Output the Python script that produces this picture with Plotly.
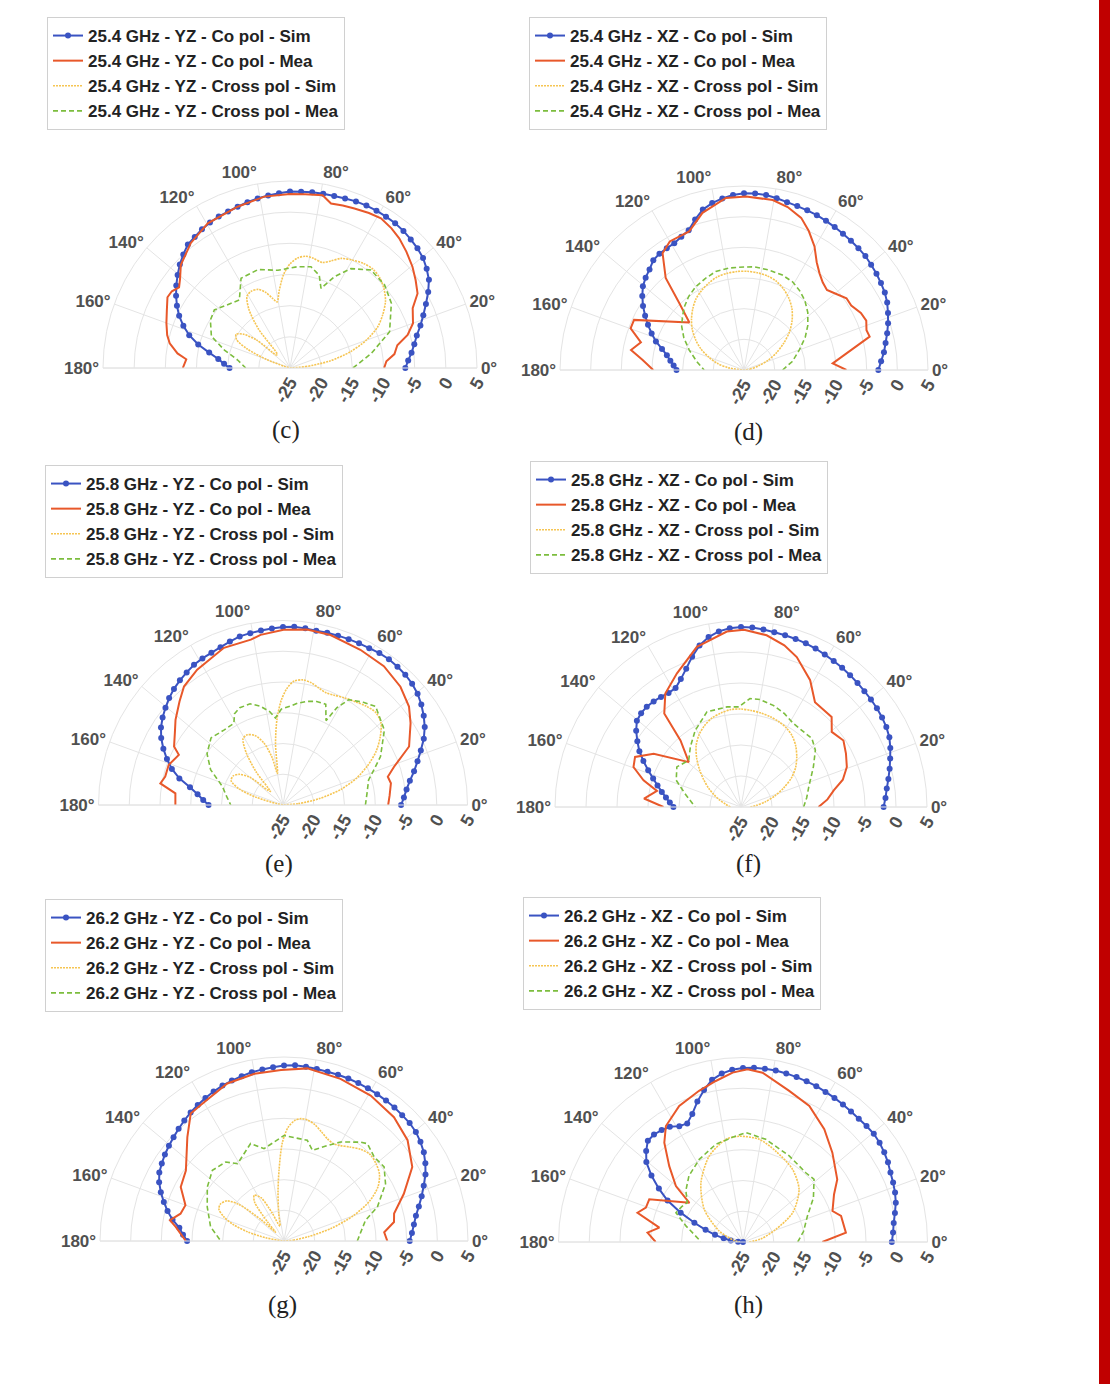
import plotly.graph_objects as go

W, H = 1110, 1384

# ---------------------------------------------------------------- data
SIM_THETA = [round(i * 3.6, 1) for i in range(51)]
ANGLE_TICKS = [0, 20, 40, 60, 80, 100, 120, 140, 160, 180]
ANGLE_TEXT = ["0°", "20°", "40°", "60°", "80°", "100°", "120°", "140°", "160°", "180°"]
RADIAL_TICKS = [-25, -20, -15, -10, -5, 0, 5]
RADIAL_TEXT = ["-25", "-20", "-15", "-10", "-5", "0", "5"]

# (c) 25.4 GHz, YZ plane
c_copol_sim = [-6.5, -6.0, -5.35, -4.7, -4.0, -3.0, -2.0, -0.9, 0.3, 1.4, 2.1, 2.7, 3.05, 3.3, 3.55,
               3.7, 3.75, 3.8, 3.8, 3.75, 3.6, 3.5, 3.45, 3.4, 3.35, 3.3, 3.1, 2.9, 2.7, 2.45, 2.2,
               2.0, 1.85, 1.65, 1.35, 1.0, 0.7, 0.0, -0.75, -1.6, -2.45, -3.35, -4.3, -5.35, -6.6,
               -8.0, -9.8, -11.8, -13.4, -14.4, -15.3]
c_copol_mea_theta = [0, 4, 7.6, 12, 15.7, 20, 26, 30.3, 35, 39.6, 45, 49.9, 54, 58.7, 63, 68, 72, 76,
                     79.3, 85, 90, 98.5, 108, 119.6, 128.4, 136.6, 141, 144, 147, 150, 155, 160, 165,
                     168.4, 172.6, 175.2, 180]
c_copol_mea = [-9.9, -9.5, -8.1, -7.4, -5.4, -4.0, -3.1, -1.3, -0.4, 0.5, 1.4, 2.2, 2.7, 3.1, 2.9,
               2.6, 2.4, 2.2, 3.2, 3.0, 2.9, 2.8, 2.2, 1.7, 0.6, -0.9, -2.3, -3.0, -2.4, -2.3, -3.2,
               -3.9, -4.6, -5.3, -6.8, -8.3, -7.8]
c_xpol_sim_theta = [0, 5, 10, 15, 20, 25, 30, 35, 40, 45, 50, 55, 60, 65, 69, 73, 78, 82, 86, 90, 94,
                    98, 101, 104, 108, 112, 117, 121, 125, 129, 133, 136, 140, 144, 148, 152, 156,
                    160, 163, 166, 172, 180]
c_xpol_sim = [-25, -22.5, -18.5, -15, -12, -9.5, -7.8, -6.3, -5.3, -4.6, -4.3, -4.5, -5.0, -5.6,
              -6.6, -7.3, -7.0, -6.9, -7.3, -8.3, -10, -12.5, -14.2, -13.5, -12.2, -11.4, -11.2,
              -11.6, -13.5, -17, -22, -22, -18, -15.8, -14.8, -15.3, -17.5, -21, -24, -25, -25, -25]
c_xpol_mea_theta = [0, 10, 20, 32.6, 41.3, 50.4, 58.5, 64, 68.7, 72.5, 78.3, 85.7, 97, 108, 118.6,
                    126.7, 142.5, 149, 158, 164.7, 171.3, 180]
c_xpol_mea = [-14.9, -11.8, -8.0, -5.7, -4.8, -4.6, -6.3, -8.7, -11.3, -9.4, -8.4, -8.7, -9.2, -8.4,
              -8.6, -11.4, -9.7, -10.1, -11.4, -14.1, -16.5, -17.9]

# (d) 25.4 GHz, XZ plane
d_copol_sim = [-3.1, -2.6, -2.0, -1.5, -0.9, -0.3, 0.25, 0.8, 1.2, 1.45, 1.7, 1.9, 2.15, 2.25, 2.35,
               2.45, 2.6, 2.75, 2.9, 3.0, 3.1, 3.25, 3.5, 3.75, 3.85, 3.8, 3.6, 3.2, 2.7, 2.0, 0.8,
               -0.5, -1.0, -1.4, -1.5, -1.55, -1.8, -2.5, -3.0, -3.6, -4.5, -5.5, -6.6, -7.7, -8.8,
               -9.9, -11.2, -12.2, -12.9, -13.5, -14.0]
d_copol_mea_theta = [0, 4.3, 14.9, 18, 22, 26, 31, 35, 40, 44, 48, 52, 56, 60.3, 65, 69.4, 75, 80.4,
                     89.3, 96, 104.8, 111.6, 120, 124.9, 130.4, 134, 139, 155.5, 159.8, 165, 170,
                     174.4, 180]
d_copol_mea = [-8.3, -10.5, -3.8, -4.0, -3.5, -3.8, -4.6, -4.6, -5.6, -6.2, -5.8, -5.0, -3.8, -1.8,
               0.0, 1.5, 2.5, 3.1, 3.3, 3.2, 1.5, -0.7, -0.8, -1.8, -5.3, -9.8, -13.2, -5.3, -5.3,
               -7.6, -6.3, -8.4, -10.2]
d_xpol_sim_theta = [0, 8, 16, 22, 28, 34, 40, 46, 52, 58, 64, 70, 76, 82, 88, 94, 100, 106, 112,
                    118, 124, 130, 136, 142, 148, 154, 160, 166, 172, 180]
d_xpol_sim = [-25, -24, -22.5, -20.8, -19, -17.2, -15.3, -13.7, -12.3, -11.2, -10.3, -9.6, -9.2,
              -9.0, -8.9, -8.9, -9.0, -9.2, -9.7, -10.3, -11.0, -12.0, -13.1, -14.3, -15.7, -17.2,
              -18.9, -20.5, -22.5, -25]
d_xpol_mea_theta = [0, 10, 20, 28, 35, 42, 49, 55, 61, 68, 76, 84, 90, 98, 106, 113, 120, 127, 133,
                    139, 145, 152, 160, 170, 180]
d_xpol_mea = [-18.7, -17, -15.4, -13.7, -12.3, -11.0, -9.9, -9.2, -8.6, -8.3, -8.2, -8.1, -8.2,
              -8.2, -8.3, -8.8, -9.3, -10.0, -10.8, -11.7, -12.6, -13.9, -15.5, -17.2, -18.5]

# (e) 25.8 GHz, YZ plane
e_copol_sim = [-5.8, -5.3, -4.75, -4.0, -3.0, -2.0, -0.9, 0.3, 1.3, 2.1, 2.8, 3.4, 3.8, 4.05, 4.2,
               4.3, 4.25, 4.1, 4.05, 4.0, 3.95, 3.9, 3.85, 3.95, 4.05, 3.95, 3.75, 3.6, 3.45, 3.3,
               2.95, 2.6, 2.35, 2.2, 2.0, 1.65, 1.3, 0.9, 0.4, -0.2, -0.8, -1.5, -2.4, -3.5, -4.7,
               -6.0, -7.6, -9.6, -11.0, -12.0, -12.9]
e_copol_mea_theta = [0, 5, 11.4, 15.1, 19, 24.9, 32.7, 38, 45.2, 54, 63.5, 74.4, 82.2, 89.8, 97.5,
                     101, 110.6, 122.4, 129.9, 135, 141.6, 146, 151.8, 154.3, 160.7, 166.4, 170,
                     173.8, 180]
e_copol_mea = [-7.9, -7.6, -7.1, -7.35, -5.9, -2.4, -0.35, 1.0, 2.1, 2.9, 3.2, 3.7, 3.8, 3.5, 2.9,
               2.4, 2.3, 1.05, 0.1, -1.2, -2.7, -3.8, -4.9, -6.2, -5.3, -5.3, -4.75, -7.4, -7.5]
e_xpol_sim_theta = [0, 5, 10, 15, 20, 25, 30, 35, 40, 45, 50, 55, 60, 65, 69, 73, 77, 81, 85, 88,
                    91, 94, 97, 100, 103, 107, 112, 117, 121, 125, 129, 133, 136, 140, 145, 150,
                    155, 160, 164, 168, 172, 180]
e_xpol_sim = [-25, -22.5, -19, -15.3, -12.3, -9.8, -7.5, -5.7, -4.2, -3.7, -4.0, -4.5, -4.9, -5.3,
              -5.45, -5.1, -4.6, -4.4, -4.8, -6, -8, -11, -15, -19.8, -17, -14.5, -12.8, -12.2,
              -12.4, -14.5, -18, -22, -21.5, -18, -16.3, -15.6, -15.7, -17.5, -20.5, -24, -25, -25]
e_xpol_mea_theta = [0, 8, 16.3, 20, 26.4, 36.5, 46.8, 52, 58, 61, 63, 67, 72, 77, 82, 86, 91, 95,
                    98, 103, 108, 114, 118, 121, 128, 137, 146, 154, 163, 172, 180]
e_xpol_mea = [-11.6, -11.2, -10.5, -9.5, -7.3, -4.5, -3.0, -3.8, -4.8, -6.9, -9.6, -7.2, -7.3,
              -7.7, -8.3, -8.9, -9.4, -10.8, -9.7, -8.5, -7.7, -7.7, -8.2, -9.5, -9.5, -9.0, -10.1,
              -11.9, -14.7, -15.8, -16.5]

# (f) 25.8 GHz, XZ plane
f_copol_sim = [-2.0, -1.65, -1.3, -0.8, -0.25, 0.3, 0.9, 1.45, 1.75, 1.95, 2.1, 2.2, 2.3, 2.45, 2.6,
               2.75, 2.9, 3.05, 3.25, 3.4, 3.5, 3.6, 3.7, 3.85, 4.0, 4.05, 3.9, 3.55, 2.9, 1.9, 0.5,
               -1.0, -2.2, -3.1, -3.2, -3.05, -2.9, -2.8, -2.9, -3.2, -4.1, -5.2, -6.3, -7.6, -8.9,
               -10.1, -11.1, -12.0, -12.8, -13.5, -14.1]
f_copol_mea_theta = [0, 5, 10.2, 15, 20.7, 27, 33, 39.6, 44.8, 54.8, 61.4, 69.6, 75, 81.5, 89, 94.6,
                     105.4, 115.6, 123.7, 129.4, 132.3, 139.3, 148.6, 154.7, 159.6, 164.7, 169.2,
                     175, 180]
f_copol_mea = [-12.5, -11.0, -9.8, -8.0, -6.75, -6.0, -5.3, -6.0, -4.4, -4.3, -1.7, 0.8, 2.0, 3.0,
               3.6, 3.4, 1.8, -1.1, -3.0, -5.5, -10.5, -13.9, -8.5, -6.1, -6.5, -8.7, -11.2, -9.3,
               -12.5]
f_xpol_sim_theta = [0, 6, 12, 18, 24, 30, 36, 42, 48, 54, 60, 66, 72, 78, 84, 90, 96, 102, 108, 114,
                    120, 126, 132, 138, 144, 150, 156, 162, 170, 180]
f_xpol_sim = [-23.5, -22.5, -21, -19.3, -17.5, -15.6, -14.1, -12.9, -11.8, -10.9, -10.3, -9.95,
              -9.7, -9.5, -9.35, -9.2, -9.2, -9.5, -9.9, -10.6, -11.5, -12.7, -14.3, -16.0, -17.6,
              -19.0, -20.3, -21.4, -22.5, -23.3]
f_xpol_mea_theta = [0, 8, 16.5, 29, 37.4, 44, 57.9, 65, 72.4, 80, 85.3, 91.3, 98, 109.7, 120.8, 130,
                    138.3, 148, 157.6, 166.5, 180]
f_xpol_mea = [-14.9, -14.3, -13.6, -11.65, -9.9, -9.1, -9.1, -8.4, -7.8, -7.4, -7.45, -8.85, -8.7,
              -8.7, -10.6, -12.3, -13.7, -12.8, -13.7, -15.7, -17.6]

# (g) 26.2 GHz, YZ plane
g_copol_sim = [-4.5, -4.1, -3.65, -3.1, -2.3, -1.4, -0.5, 0.5, 1.3, 2.0, 2.5, 2.9, 3.1, 3.15, 3.25,
               3.3, 3.35, 3.4, 3.45, 3.5, 3.5, 3.5, 3.55, 3.65, 3.7, 3.6, 3.4, 3.2, 3.0, 2.75, 2.5,
               2.25, 1.95, 1.6, 1.25, 0.9, 0.5, 0.1, -0.3, -0.65, -1.0, -1.4, -1.8, -2.5, -3.4,
               -4.4, -5.4, -6.5, -7.8, -8.5, -9.2]
g_copol_mea_theta = [0, 5, 9.8, 14, 21.5, 30, 39.2, 48.4, 59.2, 70.8, 82.3, 91, 100, 109.8, 121.6,
                     126.2, 132.9, 144.3, 152.4, 160, 165.2, 169.7, 172.6, 180]
g_copol_mea = [-8.15, -8.6, -6.8, -6.5, -4.0, -0.85, 1.0, 2.0, 2.6, 3.0, 3.4, 2.9, 2.7, 2.3, 1.0,
               0.75, -1.85, -5.3, -6.0, -7.9, -7.55, -6.1, -7.2, -9.0]
g_xpol_sim_theta = [0, 5, 10, 15, 20, 25, 30, 35, 40, 45, 50, 55, 60, 63, 67, 71, 75, 79, 82, 85,
                    88, 91, 94, 97, 101, 105, 109, 113, 118, 123, 127, 131, 134, 137, 141, 145, 150,
                    154, 158, 162, 166, 170, 174, 180]
g_xpol_sim = [-25, -23.5, -21, -17, -13, -9.6, -7.3, -6.0, -5.4, -5.1, -5.5, -6.3, -7.0, -7.2,
              -6.9, -6.2, -5.4, -4.9, -4.85, -5.3, -6.5, -9, -13.4, -17, -20.5, -22.5, -22, -20,
              -17, -16.1, -17, -21, -23, -20, -15.5, -13.6, -13.0, -13.2, -14.4, -16.3, -19, -22,
              -24.5, -25]
g_xpol_mea_theta = [0, 14.2, 20, 29.4, 36.5, 43, 49.4, 52.2, 60.2, 65.6, 72.6, 77, 90, 95.8, 102.2,
                    108.9, 121, 126.4, 135.4, 144.8, 156, 169, 180]
g_xpol_mea = [-13.05, -11.3, -8.8, -6.0, -4.7, -4.9, -4.1, -4.6, -6.4, -7.9, -9.5, -8.15, -7.8,
              -8.8, -9.6, -8.2, -10.3, -9.0, -8.6, -9.7, -11.3, -12.8, -14.7]

# (h) 26.2 GHz, XZ plane
h_copol_sim = [-0.8, -0.55, -0.3, 0.15, 0.65, 1.0, 1.25, 1.5, 1.9, 2.2, 2.45, 2.6, 2.55, 2.5, 2.55,
               2.65, 2.75, 2.85, 3.0, 3.1, 3.2, 3.3, 3.4, 3.4, 3.4, 3.3, 3.05, 2.6, 1.85, 0.5, -1.0,
               -2.6, -3.7, -3.5, -2.8, -2.5, -2.3, -2.4, -3.4, -4.6, -6.6, -8.8, -11.0, -13.8,
               -16.5, -18.6, -20.3, -21.8, -23.0, -24.2, -25.0]
h_copol_mea_theta = [0, 5.2, 14.9, 19.1, 27.6, 33.6, 45, 54.2, 64, 73, 83.4, 88.5, 93.5, 99.6, 106.2,
                     115.1, 123.6, 128.4, 134.2, 140.2, 143.8, 155.5, 160.5, 164.5, 170.3, 174.4,
                     180]
h_copol_mea = [-12.1, -8.2, -8.5, -9.6, -8.3, -6.6, -4.45, -2.4, -0.4, 0.7, 2.7, 3.1, 2.6, 1.55, 0.6,
               -0.55, -2.35, -4.4, -7.8, -10.8, -14.2, -8.25, -8.25, -7.2, -11.2, -9.4, -10.8]
h_xpol_sim_theta = [0, 10, 21, 30.6, 43.2, 55.7, 70.2, 81, 92, 99.5, 111.5, 125.4, 140, 155, 170, 180]
h_xpol_sim = [-24, -22, -19.3, -15.6, -12.5, -10.7, -9.3, -8.1, -7.8, -8.1, -10.0, -13.2, -16.8,
              -20.7, -23.5, -24.5]
h_xpol_mea_theta = [0, 10, 22, 32, 41.4, 47.8, 61.8, 77.5, 88.5, 95.7, 105.5, 117.9, 129.2, 138,
                    144.7, 150, 156.4, 164.4, 176.5, 180]
h_xpol_mea = [-16.1, -15, -13.7, -11.5, -9.6, -9.8, -9.1, -7.9, -7.2, -7.9, -8.5, -9.8, -11.1,
              -12.5, -13.9, -13.5, -13.1, -15.4, -17.8, -18]

# ---------------------------------------------------------------- panels
PANELS = [
    dict(tag="(c)", freq="25.4", plane="YZ",
         series=(c_copol_sim, c_copol_mea_theta, c_copol_mea, c_xpol_sim_theta, c_xpol_sim,
                 c_xpol_mea_theta, c_xpol_mea)),
    dict(tag="(d)", freq="25.4", plane="XZ",
         series=(d_copol_sim, d_copol_mea_theta, d_copol_mea, d_xpol_sim_theta, d_xpol_sim,
                 d_xpol_mea_theta, d_xpol_mea)),
    dict(tag="(e)", freq="25.8", plane="YZ",
         series=(e_copol_sim, e_copol_mea_theta, e_copol_mea, e_xpol_sim_theta, e_xpol_sim,
                 e_xpol_mea_theta, e_xpol_mea)),
    dict(tag="(f)", freq="25.8", plane="XZ",
         series=(f_copol_sim, f_copol_mea_theta, f_copol_mea, f_xpol_sim_theta, f_xpol_sim,
                 f_xpol_mea_theta, f_xpol_mea)),
    dict(tag="(g)", freq="26.2", plane="YZ",
         series=(g_copol_sim, g_copol_mea_theta, g_copol_mea, g_xpol_sim_theta, g_xpol_sim,
                 g_xpol_mea_theta, g_xpol_mea)),
    dict(tag="(h)", freq="26.2", plane="XZ",
         series=(h_copol_sim, h_copol_mea_theta, h_copol_mea, h_xpol_sim_theta, h_xpol_sim,
                 h_xpol_mea_theta, h_xpol_mea)),
]

# page geometry in pixels: polar centre, radius, legend top-left, caption centre
GEOM = [
    dict(cx=290, cy=368, R=187, lx=47, ly=17, tx=286, ty=430),
    dict(cx=744, cy=370, R=184, lx=529, ly=17, tx=748, ty=432),
    dict(cx=283, cy=805, R=184.5, lx=45, ly=465, tx=279, ty=864),
    dict(cx=741, cy=807, R=186, lx=530, ly=461, tx=748, ty=864),
    dict(cx=284, cy=1241, R=184, lx=45, ly=899, tx=282, ty=1305),
    dict(cx=743, cy=1242, R=184.5, lx=523, ly=897, tx=748, ty=1305),
]

BLUE = "#3a53c2"
RED = "#e8582a"
YELLOW = "#f6c553"
GREEN = "#7cbd3e"
GRID = "#e4e4e4"
ANG_FONT = dict(family="Liberation Sans", size=17, color="#505050", weight="bold")
RAD_FONT = dict(family="Liberation Sans", size=18, color="#505050", weight="bold")
LEG_FONT = dict(family="Liberation Sans", size=17, color="#222222", weight="bold")

fig = go.Figure()
layout = dict(width=W, height=H, margin=dict(l=0, r=0, t=0, b=0),
              paper_bgcolor="white", plot_bgcolor="white", annotations=[], shapes=[])

for i, (p, g) in enumerate(zip(PANELS, GEOM)):
    sp = "polar" if i == 0 else f"polar{i + 1}"
    lg = "legend" if i == 0 else f"legend{i + 1}"
    (co_sim, co_mea_t, co_mea, x_sim_t, x_sim, x_mea_t, x_mea) = p["series"]
    base = f"{p['freq']} GHz - {p['plane']} - "

    fig.add_trace(go.Scatterpolar(
        theta=SIM_THETA, r=co_sim, mode="lines+markers", name=base + "Co pol - Sim",
        line=dict(color=BLUE, width=2), marker=dict(color=BLUE, size=6),
        subplot=sp, legend=lg))
    fig.add_trace(go.Scatterpolar(
        theta=co_mea_t, r=co_mea, mode="lines", name=base + "Co pol - Mea",
        line=dict(color=RED, width=2), subplot=sp, legend=lg))
    fig.add_trace(go.Scatterpolar(
        theta=x_sim_t, r=x_sim, mode="lines", name=base + "Cross pol - Sim",
        line=dict(color=YELLOW, width=1.6, dash="2px,1px", shape="spline", smoothing=0.8),
        subplot=sp, legend=lg))
    fig.add_trace(go.Scatterpolar(
        theta=x_mea_t, r=x_mea, mode="lines", name=base + "Cross pol - Mea",
        line=dict(color=GREEN, width=1.6, dash="5px,3px"), subplot=sp, legend=lg))

    R = g["R"]
    layout[sp] = dict(
        domain=dict(x=[(g["cx"] - R) / W, (g["cx"] + R) / W],
                    y=[1 - g["cy"] / H, 1 - (g["cy"] - R) / H]),
        sector=[0, 180],
        bgcolor="white",
        radialaxis=dict(range=[-25, 5], tickmode="array", tickvals=RADIAL_TICKS,
                        ticktext=RADIAL_TEXT, angle=0, side="clockwise", tickangle=-60,
                        showline=False, ticks="", gridcolor=GRID, gridwidth=1,
                        tickfont=RAD_FONT),
        angularaxis=dict(tickmode="array", tickvals=ANGLE_TICKS, ticktext=ANGLE_TEXT,
                         direction="counterclockwise", rotation=0, showline=True,
                         linecolor=GRID, linewidth=1, gridcolor=GRID, gridwidth=1, ticks="",
                         tickfont=ANG_FONT),
    )
    layout[lg] = dict(x=g["lx"] / W, y=1 - g["ly"] / H, xanchor="left", yanchor="top",
                      bgcolor="white", bordercolor="#d0d0d0", borderwidth=1,
                      font=LEG_FONT, tracegroupgap=0, itemwidth=30)
    layout["annotations"].append(dict(
        x=g["tx"] / W, y=1 - g["ty"] / H, xref="paper", yref="paper", text=p["tag"],
        xanchor="center", yanchor="middle", showarrow=False,
        font=dict(family="Liberation Serif", size=25, color="#222222")))

# red edge strip on the right
layout["shapes"].append(dict(type="rect", xref="paper", yref="paper", x0=1099 / W, x1=1,
                             y0=0, y1=1, fillcolor="#c00000", line=dict(width=0)))

fig.update_layout(**layout)
fig.write_html("out.html")
